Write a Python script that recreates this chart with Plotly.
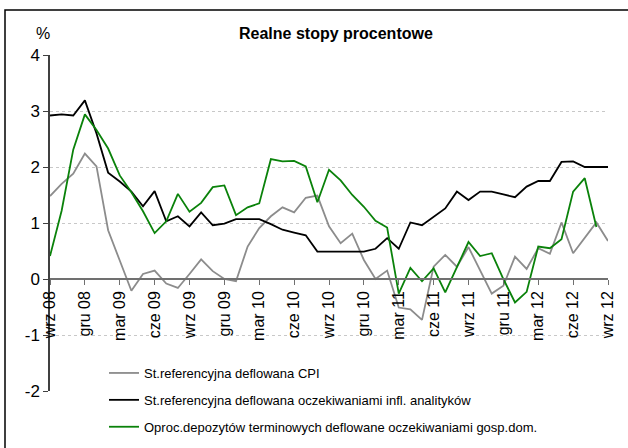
import plotly.graph_objects as go

# Monthly data: wrz 08 .. wrz 12
months_pl = ["sty", "lut", "mar", "kwi", "maj", "cze", "lip", "sie", "wrz", "paź", "lis", "gru"]
months = []
y, m = 2008, 9
for _ in range(49):
    months.append(f"{months_pl[m-1]} {str(y)[2:]}")
    m += 1
    if m > 12:
        m = 1
        y += 1

cpi = [1.48, 1.70, 1.88, 2.24, 2.01, 0.87, 0.33, -0.21, 0.09, 0.15,
       -0.08, -0.16, 0.09, 0.35, 0.14, 0.00, -0.04, 0.58, 0.91, 1.12,
       1.28, 1.19, 1.45, 1.49, 0.94, 0.64, 0.81, 0.34, 0.00, 0.15,
       -0.51, -0.54, -0.73, 0.22, 0.43, 0.22, 0.57, 0.16, -0.26, -0.12,
       0.40, 0.18, 0.55, 0.45, 1.01, 0.46, 0.74, 1.01, 0.68]

analysts = [2.92, 2.94, 2.92, 3.19, 2.60, 1.90, 1.74, 1.56, 1.30, 1.57,
            1.03, 1.12, 0.94, 1.19, 0.96, 0.99, 1.07, 1.07, 1.07, 0.98,
            0.88, 0.83, 0.78, 0.49, 0.49, 0.49, 0.49, 0.49, 0.54, 0.73,
            0.54, 1.01, 0.96, 1.11, 1.26, 1.56, 1.41, 1.56, 1.56, 1.51,
            1.46, 1.65, 1.75, 1.75, 2.09, 2.10, 2.00, 2.00, 2.00]

households = [0.41, 1.22, 2.31, 2.94, 2.66, 2.33, 1.85, 1.55, 1.21, 0.82,
              1.03, 1.52, 1.20, 1.36, 1.64, 1.67, 1.14, 1.28, 1.35, 2.14,
              2.10, 2.11, 2.01, 1.37, 1.95, 1.76, 1.50, 1.29, 1.04, 0.92,
              -0.26, 0.20, -0.04, 0.19, -0.24, 0.20, 0.66, 0.41, 0.46, 0.00,
              -0.42, -0.23, 0.58, 0.55, 0.71, 1.56, 1.80, 0.93, None]

names = ["St.referencyjna deflowana CPI",
         "St.referencyjna deflowana oczekiwaniami infl. analityków",
         "Oproc.depozytów terminowych deflowane oczekiwaniami gosp.dom."]
colors = ["#8c8c8c", "#000000", "#0a820a"]

tick_labels = months[::3]
y_ticks = [-2, -1, 0, 1, 2, 3, 4]

NARROW = "Liberation Sans Narrow, Arial Narrow, Liberation Sans, Arial, sans-serif"

fig = go.Figure()
for i, (series, name, col) in enumerate(zip([cpi, analysts, households], names, colors)):
    fig.add_trace(go.Scatter(x=months, y=series, name=name, mode="lines",
                             line=dict(color=col, width=1.8),
                             legendgroup=f"g{i}", connectgaps=False))

# plot area in px: x 50..608, y 55..391
L, R, T, B = 50, 608, 55, 391
W, H = 628, 448

def px_x(px):
    return (px - L) / (R - L)

def px_y(py):
    return (B - py) / (B - T)

fig.update_layout(
    width=W, height=H,
    margin=dict(l=L, r=W - R, t=T, b=H - B, autoexpand=False),
    paper_bgcolor="white", plot_bgcolor="white",
    font=dict(family=NARROW, size=14, color="black"),
    showlegend=True,
    legend=dict(x=px_x(104), y=px_y(358), xanchor="left", yanchor="top",
                bgcolor="white", borderwidth=0,
                font=dict(family=NARROW, size=13, color="black"),
                traceorder="grouped", tracegroupgap=7,
                itemwidth=30),
    xaxis=dict(type="category", range=[0, 48], automargin=False,
               tickmode="array", tickvals=tick_labels, ticktext=tick_labels,
               tickangle=-90, ticks="outside", ticklen=5, tickcolor="#707070",
               showline=True, linecolor="#707070", linewidth=1.5,
               showgrid=False, zeroline=False,
               anchor="free", position=2/6,
               tickfont=dict(family=NARROW, size=16, color="black")),
    yaxis=dict(range=[-2, 4], tickvals=y_ticks, ticktext=[str(v) for v in y_ticks],
               automargin=False,
               ticks="outside", ticklen=5, tickcolor="#404040",
               showline=True, linecolor="#404040", linewidth=1.5,
               showgrid=True, gridcolor="#c8c8c8", griddash="dot", gridwidth=1,
               zeroline=False,
               tickfont=dict(family=NARROW, size=17, color="black")),
    shapes=[dict(type="rect", xref="paper", yref="paper",
                 x0=px_x(5), x1=px_x(640), y0=px_y(460), y1=px_y(10),
                 line=dict(color="black", width=1.5), fillcolor="rgba(0,0,0,0)",
                 layer="above")],
    annotations=[
        dict(text="<b>Realne stopy procentowe</b>", xref="paper", yref="paper",
             x=px_x(336), y=px_y(33), xanchor="center", yanchor="middle",
             showarrow=False, font=dict(family="Liberation Sans, Arial, sans-serif", size=16)),
        dict(text="%", xref="paper", yref="paper",
             x=px_x(43), y=px_y(33), xanchor="center", yanchor="middle",
             showarrow=False, font=dict(family=NARROW, size=16)),
    ],
)

fig.write_html("out.html", config={"displayModeBar": False})

# remove default page margin so the figure sits at the window origin
with open("out.html", "r", encoding="utf-8") as f:
    html = f.read()
html = html.replace("<head>", "<head><style>html,body{margin:0;padding:0;overflow:hidden;}</style>", 1)
with open("out.html", "w", encoding="utf-8") as f:
    f.write(html)
